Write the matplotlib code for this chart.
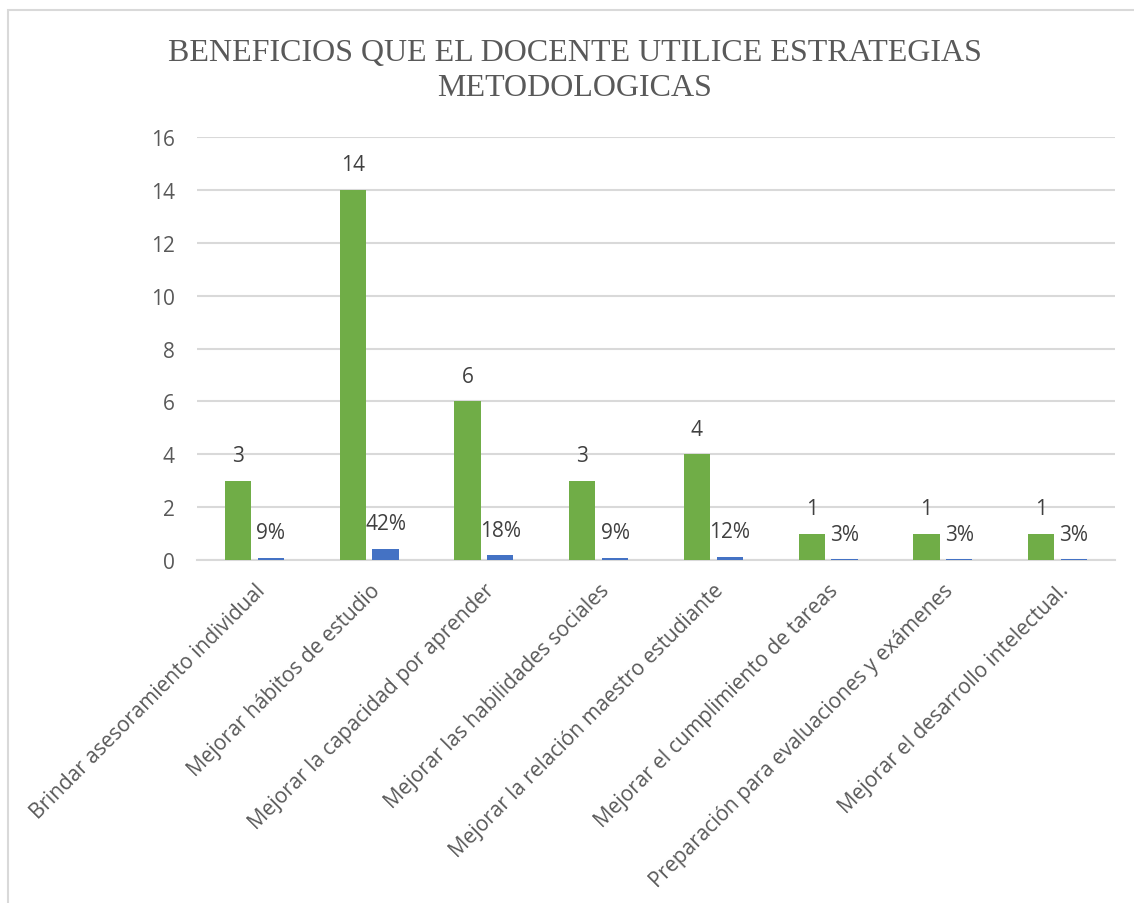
import matplotlib.pyplot as plt
from matplotlib.patches import Rectangle

# data
categorias = ["Brindar asesoramiento individual", "Mejorar hábitos de estudio",
              "Mejorar la capacidad por aprender", "Mejorar las habilidades sociales",
              "Mejorar la relación maestro estudiante", "Mejorar el cumplimiento de tareas",
              "Preparación para evaluaciones y exámenes", "Mejorar el desarrollo intelectual."]
frecuencia = [3, 14, 6, 3, 4, 1, 1, 1]
porcentaje = [0.09, 0.42, 0.18, 0.09, 0.12, 0.03, 0.03, 0.03]

W, H = 1134, 904
fig = plt.figure(figsize=(W / 100, H / 100), dpi=100)
ax = fig.add_axes([197 / W, 1 - 561 / H, (1115 - 197) / W, (561 - 138) / H])

# outer chart frame
fig.patches.append(Rectangle((8 / W, -0.1), 1.2, 1 - 11 / H + 0.1, transform=fig.transFigure,
                             fill=False, edgecolor="#D9D9D9", linewidth=1.5))

x = list(range(len(categorias)))
bw = 0.23
off = 0.143
ax.bar([i - off for i in x], frecuencia, width=bw, color="#70AD47", zorder=3)
ax.bar([i + off for i in x], porcentaje, width=bw, color="#4472C4", zorder=3)

lab_font = "Open Sans"
for i in x:
    ax.annotate(str(frecuencia[i]), (i - off, frecuencia[i]), xytext=(0, 18),
                textcoords="offset points", ha="center", va="center",
                fontsize=15, color="#404040", family=lab_font)
    ax.annotate(f"{round(porcentaje[i] * 100)}%", (i + off, porcentaje[i]), xytext=(0, 18),
                textcoords="offset points", ha="center", va="center",
                fontsize=15, color="#404040", family=lab_font)

ax.set_xlim(-0.5, len(categorias) - 0.5)
ax.set_ylim(0, 16)
ax.set_yticks(range(0, 17, 2))
ax.yaxis.grid(True, color="#D9D9D9", linewidth=1.5, zorder=0)
for s in ["top", "right", "left"]:
    ax.spines[s].set_visible(False)
ax.spines["bottom"].set_color("#D9D9D9")
ax.spines["bottom"].set_linewidth(1.5)
ax.tick_params(length=0, colors="#595959", labelsize=15)
ax.tick_params(axis="y", pad=16)
ax.set_xticks(x)
ax.set_xticklabels(categorias, rotation=45, ha="right", rotation_mode="anchor",
                   family=lab_font, fontsize=15, color="#595959")
ax.tick_params(axis="x", pad=14)
for t in ax.get_yticklabels():
    t.set_family(lab_font)

fig.text(575 / W, 1 - 71 / H, "BENEFICIOS QUE EL DOCENTE UTILICE ESTRATEGIAS\nMETODOLOGICAS",
         ha="center", va="center", family="Liberation Serif", fontsize=23,
         color="#595959", linespacing=1.3)

fig.savefig("out.png", dpi=100)
